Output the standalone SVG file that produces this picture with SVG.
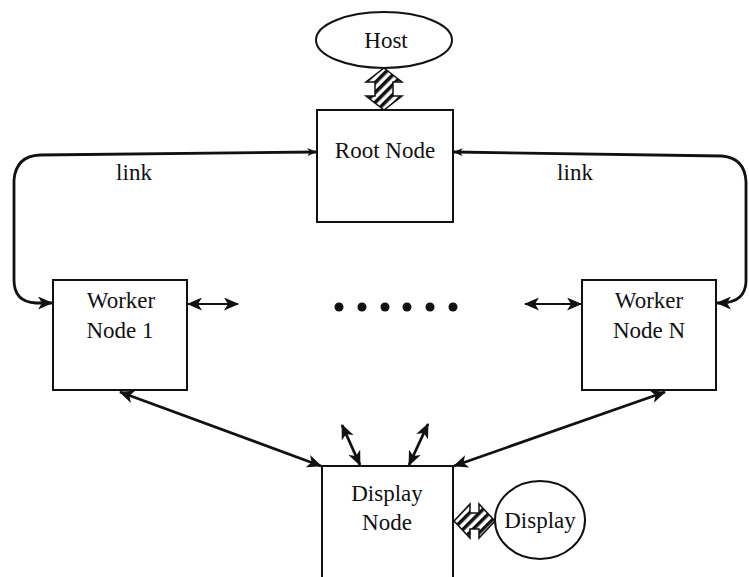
<svg xmlns="http://www.w3.org/2000/svg" width="749" height="577" viewBox="0 0 749 577">
<defs>
<style>
.box{fill:#fff;stroke:#111;stroke-width:2}
.ell{fill:#fff;stroke:#111;stroke-width:2}
.t{font-family:"Liberation Serif","Times New Roman",serif;font-size:23px;fill:#111;text-anchor:middle}
.ln{fill:none;stroke:#111;stroke-width:2.8}
.thin{fill:none;stroke:#111;stroke-width:2.2}
.hat{fill:url(#hatch);stroke:#111;stroke-width:1.5}
</style>
<pattern id="hatch" patternUnits="userSpaceOnUse" width="7" height="7" patternTransform="rotate(45)">
<rect width="7" height="7" fill="#fff"/>
<rect width="3.5" height="7" fill="#111"/>
</pattern>
<marker id="ah" viewBox="0 0 15 13" refX="14" refY="6.5" markerWidth="15" markerHeight="13" markerUnits="userSpaceOnUse" orient="auto-start-reverse">
<path d="M0,0 L15,6.5 L0,13 L4,6.5 z" fill="#111"/>
</marker>
<marker id="ahs" viewBox="0 0 15 13" refX="14" refY="6.5" markerWidth="10" markerHeight="8" markerUnits="userSpaceOnUse" orient="auto-start-reverse">
<path d="M0,0 L15,6.5 L0,13 L4,6.5 z" fill="#111"/>
</marker>
</defs>

<g id="connectors">
<path class="ln" d="M316,152 L40,155 Q16,156 14,180 L14,280 Q14,302 36,303 L52,303" marker-start="url(#ahs)" marker-end="url(#ah)"/>
<path class="ln" d="M454,152 L722,156 Q745,158 746,182 L746,282 Q745,302 722,303 L717,303" marker-start="url(#ahs)" marker-end="url(#ah)"/>
<line class="thin" x1="188" y1="304" x2="238" y2="304" marker-start="url(#ah)" marker-end="url(#ah)"/>
<line class="thin" x1="525" y1="304" x2="581" y2="304" marker-start="url(#ah)" marker-end="url(#ah)"/>
<line class="ln" x1="120" y1="392" x2="321" y2="466" marker-start="url(#ah)" marker-end="url(#ah)"/>
<line class="ln" x1="665" y1="392" x2="454" y2="466" marker-start="url(#ah)" marker-end="url(#ah)"/>
<line class="ln" x1="342" y1="425" x2="360" y2="465" marker-start="url(#ah)" marker-end="url(#ah)"/>
<line class="ln" x1="428" y1="424" x2="409" y2="465" marker-start="url(#ah)" marker-end="url(#ah)"/>
<polygon class="hat" points="384,68 402,82 393,82 393,96 402,96 384,110 366,96 375,96 375,82 366,82"/>
<polygon class="hat" points="454,521 470,504 470,513 479,513 479,504 495,521 479,538 479,529 470,529 470,538"/>
</g>

<g id="host">
<ellipse class="ell" cx="384" cy="40" rx="68" ry="28"/>
<text class="t" x="386" y="48">Host</text>
</g>

<g id="root">
<rect class="box" x="317" y="110" width="136" height="112"/>
<text class="t" x="385" y="158">Root Node</text>
</g>

<g id="worker1">
<rect class="box" x="53" y="280" width="134" height="110"/>
<text class="t" x="121" y="308">Worker</text>
<text class="t" x="120" y="338">Node 1</text>
</g>

<g id="workerN">
<rect class="box" x="582" y="280" width="134" height="110"/>
<text class="t" x="649" y="308">Worker</text>
<text class="t" x="649" y="338">Node N</text>
</g>

<g id="dots">
<circle cx="339" cy="307" r="4.5" fill="#111"/>
<circle cx="362" cy="307" r="4.5" fill="#111"/>
<circle cx="385" cy="307" r="4.5" fill="#111"/>
<circle cx="407" cy="307" r="4.5" fill="#111"/>
<circle cx="430" cy="307" r="4.5" fill="#111"/>
<circle cx="453" cy="307" r="4.5" fill="#111"/>
</g>

<g id="displaynode">
<path class="box" d="M322,580 L322,466 L453,466 L453,580"/>
<text class="t" x="387" y="501">Display</text>
<text class="t" x="387" y="530">Node</text>
</g>

<g id="display">
<ellipse class="ell" cx="540" cy="520" rx="45" ry="39"/>
<text class="t" x="540" y="528">Display</text>
</g>

<g id="labels">
<text class="t" x="134" y="180">link</text>
<text class="t" x="575" y="180">link</text>
</g>
</svg>
